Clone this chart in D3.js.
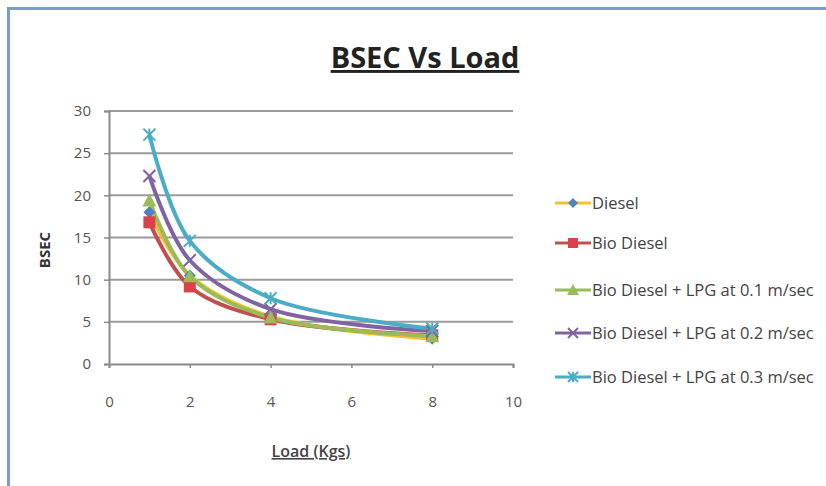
<!DOCTYPE html>
<html><head><meta charset="utf-8">
<script src="https://cdn.jsdelivr.net/npm/d3@7"></script>
<style>
html,body{margin:0;padding:0;background:#fff;}
text{font-family:"Open Sans",Arial,sans-serif;}
</style></head>
<body>
<svg id="c" width="826" height="486"></svg>
<script>
const loads = [1, 2, 4, 8];
const diesel = [18.0, 10.5, 5.6, 3.0];
const bioDiesel = [16.8, 9.2, 5.3, 3.4];
const lpg01 = [19.4, 10.4, 5.5, 3.3];
const lpg02 = [22.3, 12.3, 6.5, 3.9];
const lpg03 = [27.2, 14.6, 7.8, 4.2];
const seriesNames = ["Diesel", "Bio Diesel", "Bio Diesel + LPG at 0.1 m/sec", "Bio Diesel + LPG at 0.2 m/sec", "Bio Diesel + LPG at 0.3 m/sec"];
const xTicks = [0, 2, 4, 6, 8, 10];
const yTicks = [0, 5, 10, 15, 20, 25, 30];

const series = [
  {name: seriesNames[0], values: diesel, line: "#F2C12E", marker: "diamond", mcolor: "#4F81BD"},
  {name: seriesNames[1], values: bioDiesel, line: "#C0504D", marker: "square", mcolor: "#D9424A"},
  {name: seriesNames[2], values: lpg01, line: "#9BBB59", marker: "triangle", mcolor: "#9BBB59"},
  {name: seriesNames[3], values: lpg02, line: "#8064A2", marker: "x", mcolor: "#8064A2"},
  {name: seriesNames[4], values: lpg03, line: "#4BACC6", marker: "star", mcolor: "#4BACC6"}
];

const svg = d3.select("#c");
svg.append("rect").attr("x", 8.5).attr("y", 8.5).attr("width", 830).attr("height", 490)
  .attr("fill", "#fff").attr("stroke", "#7E9CC9").attr("stroke-width", 3);

const x = d3.scaleLinear().domain([0, 10]).range([109, 513]);
const y = d3.scaleLinear().domain([0, 30]).range([364, 111]);

const g = svg.append("g");
g.selectAll("line.grid").data(yTicks.filter(d => d > 0)).join("line")
  .attr("x1", x(0)).attr("x2", x(10)).attr("y1", d => y(d)).attr("y2", d => y(d))
  .attr("stroke", "#9a9a9a").attr("stroke-width", 2);

const xAxis = d3.axisBottom(x).tickValues(xTicks).tickSize(4).tickPadding(28);
const yAxis = d3.axisLeft(y).tickValues(yTicks).tickSize(5).tickPadding(13);
const gx = g.append("g").attr("transform", `translate(0,${y(0)})`).call(xAxis);
const gy = g.append("g").attr("transform", `translate(${x(0)},0)`).call(yAxis);
[gx, gy].forEach(a => {
  a.select(".domain").attr("stroke", "#8a8a8a").attr("stroke-width", 2);
  a.selectAll(".tick line").attr("stroke", "#8a8a8a").attr("stroke-width", 1.5);
  a.selectAll(".tick text").attr("fill", "#555").attr("font-size", 15)
    .style("font-family", '"Open Sans",Arial,sans-serif');
});

const line = d3.line().x((d, i) => x(loads[i])).y(d => y(d)).curve(d3.curveCatmullRom.alpha(0.5));

function drawMarker(sel, type, color, size) {
  const s = size;
  if (type === "diamond") {
    sel.append("path").attr("d", `M0,${-s}L${s},0L0,${s}L${-s},0Z`).attr("fill", color);
  } else if (type === "square") {
    sel.append("rect").attr("x", -s).attr("y", -s).attr("width", 2 * s).attr("height", 2 * s).attr("fill", color);
  } else if (type === "triangle") {
    sel.append("path").attr("d", `M0,${-s - 1}L${s + 1},${s}L${-s - 1},${s}Z`).attr("fill", color);
  } else if (type === "x") {
    sel.append("path").attr("d", `M${-s},${-s}L${s},${s}M${s},${-s}L${-s},${s}`).attr("stroke", color).attr("stroke-width", 2);
  } else if (type === "star") {
    sel.append("path").attr("d", `M${-s},${-s}L${s},${s}M${s},${-s}L${-s},${s}M0,${-s}L0,${s}`).attr("stroke", color).attr("stroke-width", 2);
  }
}

series.forEach(s => {
  g.append("path").datum(s.values).attr("d", line).attr("fill", "none")
    .attr("stroke", s.line).attr("stroke-width", 4).attr("stroke-linejoin", "round");
});
series.forEach(s => {
  s.values.forEach((v, i) => {
    const m = g.append("g").attr("transform", `translate(${x(loads[i])},${y(v)})`);
    drawMarker(m, s.marker, s.mcolor, 6);
  });
});

svg.append("text").attr("x", 425).attr("y", 68).attr("text-anchor", "middle")
  .attr("font-size", 29).attr("font-weight", "bold").attr("fill", "#222")
  .attr("text-decoration", "underline").text("BSEC Vs Load");
svg.append("text").attr("transform", "translate(50,250) rotate(-90)").attr("text-anchor", "middle")
  .attr("font-size", 15).attr("font-weight", "bold").attr("fill", "#333").text("BSEC");
svg.append("text").attr("x", 311).attr("y", 457).attr("text-anchor", "middle")
  .attr("font-size", 16).attr("font-weight", 600).attr("fill", "#444").attr("text-decoration", "underline").text("Load (Kgs)");

const legY = [203, 243, 290, 333, 377];
series.forEach((s, i) => {
  const lg = svg.append("g").attr("transform", `translate(555,${legY[i]})`);
  lg.append("line").attr("x1", 0).attr("x2", 36).attr("y1", 0).attr("y2", 0)
    .attr("stroke", s.line).attr("stroke-width", 3);
  const m = lg.append("g").attr("transform", "translate(18,0)");
  drawMarker(m, s.marker, s.mcolor, 5);
  lg.append("text").attr("x", 37).attr("y", 6).attr("font-size", 16.5).attr("fill", "#444").text(s.name);
});
</script>
</body></html>
